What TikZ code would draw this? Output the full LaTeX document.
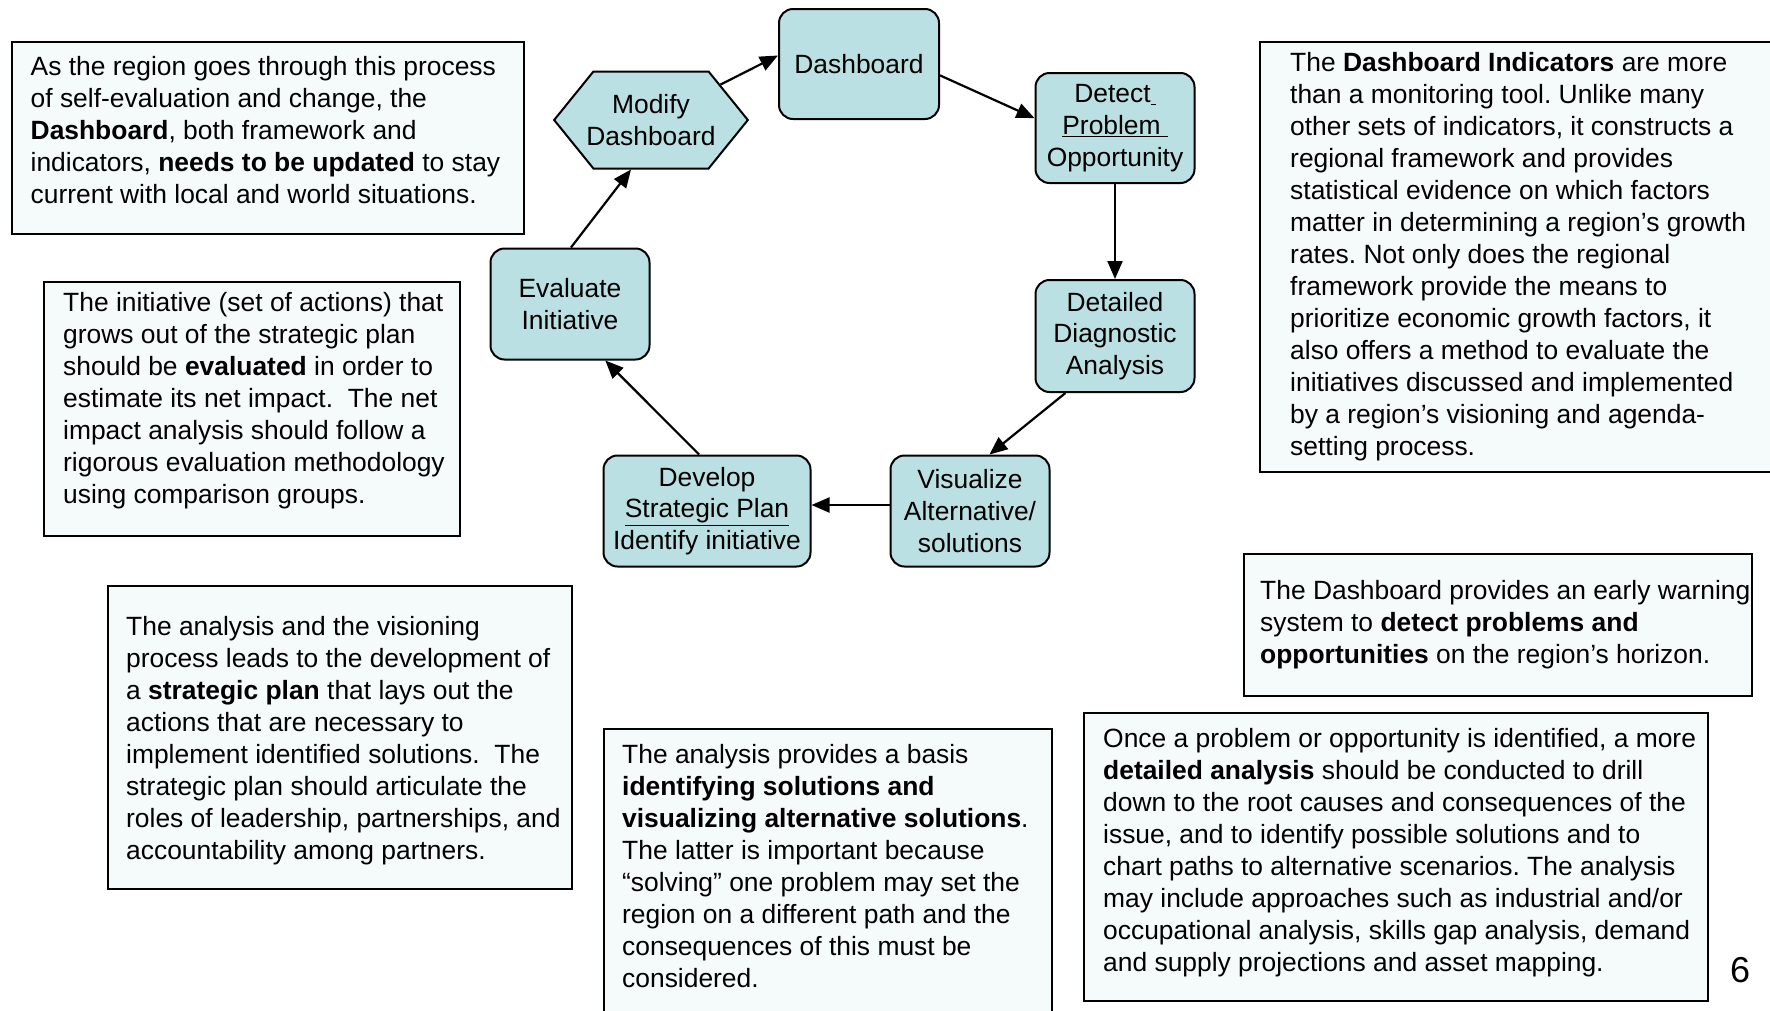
\documentclass[tikz,border=0pt]{standalone}
\usepackage{fontspec}
\setmainfont{Liberation Sans}
\usetikzlibrary{arrows.meta,shapes.symbols}
\definecolor{nodefill}{RGB}{187,224,227}
\definecolor{boxfill}{RGB}{245,250,251}
\tikzset{
  proc/.style={draw=black, line width=2pt, fill=nodefill, rounded corners=14pt,
    align=center, inner sep=0pt, font=\fontsize{26.4}{31.8}\selectfont},
  hexa/.style={draw=black, line width=2pt, fill=nodefill, shape=signal,
    signal to=east and west, signal pointer angle=102, align=center, inner ysep=0pt,
    inner xsep=-7pt, font=\fontsize{26.4}{31.8}\selectfont},
  note/.style={draw=black, line width=2pt, fill=boxfill, anchor=north west, inner sep=0pt},
  notetext/.style={anchor=north west, align=left, inner sep=0pt,
    font=\fontsize{26.4}{32}\selectfont},
  flow/.style={line width=2.2pt, -{Triangle[length=18pt,width=15pt]}}
}
\begin{document}
\frenchspacing
\begin{tikzpicture}[x=1pt,y=-1pt]
\useasboundingbox (0,0) rectangle (1770,1010);
\clip (0,0) rectangle (1770,1010);
\fill[white] (0,0) rectangle (1770,1010);

% process nodes
\node[proc, minimum width=160pt, minimum height=110pt] (dash) at (859,64) {Dashboard};
\node[proc, minimum width=159pt, minimum height=110pt] (det) at (1115,128)
  {Detect\underline{\hspace{5pt}}\\\underline{Problem\hspace{7pt}}\\Opportunity};
\node[proc, minimum width=159pt, minimum height=112pt] (dia) at (1115,336)
  {Detailed\\Diagnostic\\Analysis};
\node[proc, minimum width=159pt, minimum height=111pt] (vis) at (970,511)
  {Visualize\\Alternative/\\solutions};
\node[proc, minimum width=207pt, minimum height=111pt] (dev) at (707,511)
  {Develop\\\underline{Strategic Plan}\\Identify initiative};
\node[proc, minimum width=159pt, minimum height=111pt] (eva) at (570,304)
  {Evaluate\\Initiative};
\node[hexa, minimum height=97pt] (mod) at (651,120)
  {Modify\\Dashboard};

% connectors
\draw[flow] (mod.27) -- (dash.174);
\draw[flow] (dash.-8.5) -- (det.173);
\draw[flow] (det.south) -- (dia.north);
\draw[flow] (dia.229) -- (vis.71);
\draw[flow] ([yshift=6pt]vis.west) -- ([yshift=6pt]dev.east);
\draw[flow] (dev.98) -- (eva.-58);
\draw[flow] (eva.89) -- (mod.248);

% note boxes
\node[note, minimum width=512pt, minimum height=192pt] (boxA) at (11,41) {};
\node[notetext] (txtA) at (30.5,56) {As the region goes through this process\\
of self-evaluation and change, the\\
\textbf{Dashboard}, both framework and\\
indicators, \textbf{needs to be updated} to stay\\
current with local and world situations.};

\node[note, minimum width=416pt, minimum height=254pt] (boxB) at (43,281) {};
\node[notetext] (txtB) at (63,292) {The initiative (set of actions) that\\
grows out of the strategic plan\\
should be \textbf{evaluated} in order to\\
estimate its net impact.\ \ The net\\
impact analysis should follow a\\
rigorous evaluation methodology\\
using comparison groups.};

\node[note, minimum width=464pt, minimum height=303pt] (boxC) at (107,585) {};
\node[notetext] (txtC) at (126,616) {The analysis and the visioning\\
process leads to the development of\\
a \textbf{strategic plan} that lays out the\\
actions that are necessary to\\
implement identified solutions.\ \ The\\
strategic plan should articulate the\\
roles of leadership, partnerships, and\\
accountability among partners.};

\node[note, minimum width=448pt, minimum height=300pt] (boxD) at (603,728) {};
\node[notetext] (txtD) at (622,744) {The analysis provides a basis\\
\textbf{identifying solutions and}\\
\textbf{visualizing alternative solutions}.\\
The latter is important because\\
``solving'' one problem may set the\\
region on a different path and the\\
consequences of this must be\\
considered.};

\node[note, minimum width=530pt, minimum height=430pt] (boxE) at (1259,41) {};
\node[notetext] (txtE) at (1290,52) {The \textbf{Dashboard Indicators} are more\\
than a monitoring tool. Unlike many\\
other sets of indicators, it constructs a\\
regional framework and provides\\
statistical evidence on which factors\\
matter in determining a region’s growth\\
rates. Not only does the regional\\
framework provide the means to\\
prioritize economic growth factors, it\\
also offers a method to evaluate the\\
initiatives discussed and implemented\\
by a region’s visioning and agenda-\\
setting process.};

\node[note, minimum width=508pt, minimum height=142pt] (boxF) at (1243,553) {};
\node[notetext] (txtF) at (1260,580) {The Dashboard provides an early warning\\
system to \textbf{detect problems and}\\
\textbf{opportunities} on the region’s horizon.};

\node[note, minimum width=624pt, minimum height=288pt] (boxG) at (1083,712) {};
\node[notetext] (txtG) at (1103,728) {Once a problem or opportunity is identified, a more\\
\textbf{detailed analysis} should be conducted to drill\\
down to the root causes and consequences of the\\
issue, and to identify possible solutions and to\\
chart paths to alternative scenarios. The analysis\\
may include approaches such as industrial and/or\\
occupational analysis, skills gap analysis, demand\\
and supply projections and asset mapping.};

\node[anchor=base, inner sep=0pt, font=\fontsize{36}{40}\selectfont] (pg) at (1740,982) {6};
\end{tikzpicture}
\end{document}
